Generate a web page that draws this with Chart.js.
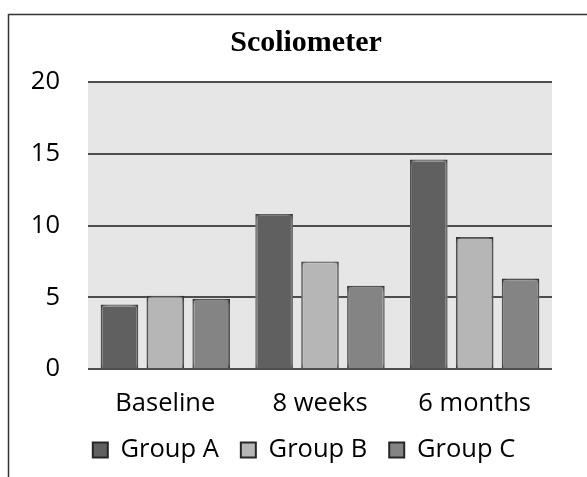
<!DOCTYPE html>
<html>
<head>
<meta charset="utf-8">
<script src="https://cdn.jsdelivr.net/npm/chart.js@4.4.1/dist/chart.umd.min.js"></script>
<style>
  html, body { margin: 0; padding: 0; background: #fff; }
  #wrap { width: 587px; height: 477px; position: relative; }
</style>
</head>
<body>
<div id="wrap"><canvas id="scolioChart" width="587" height="477"></canvas></div>
<script>
const categories = ["Baseline", "8 weeks", "6 months"];
const groupA = [4.5, 10.8, 14.6];
const groupB = [5.1, 7.5, 9.2];
const groupC = [4.9, 5.8, 6.3];
const yTicks = [0, 5, 10, 15, 20];

// frame lines (top + left) and grey plot background
const framePlugin = {
  id: "frame",
  afterLayout(chart) {
    // original chart was wider than the crop, so title/legend sit right of centre
    if (chart.titleBlock) chart.titleBlock.left = 60;
    if (chart.legend) chart.legend.left = 56;
  },
  beforeDraw(chart) {
    const ctx = chart.ctx;
    const a = chart.chartArea;
    ctx.save();
    ctx.fillStyle = "#e6e6e6";
    ctx.fillRect(a.left, a.top, a.right - a.left, a.bottom - a.top);
    ctx.strokeStyle = "#333";
    ctx.lineWidth = 1.5;
    ctx.beginPath();
    ctx.moveTo(8.5, chart.height);
    ctx.lineTo(8.5, 14.5);
    ctx.lineTo(chart.width, 14.5);
    ctx.stroke();
    ctx.restore();
  },
  beforeDatasetDraw(chart) {
    chart.ctx.save();
    chart.ctx.shadowColor = "rgba(255,255,255,0.95)";
    chart.ctx.shadowBlur = 5;
  },
  afterDatasetDraw(chart) {
    chart.ctx.restore();
  }
};

const ctx = document.getElementById("scolioChart").getContext("2d");
new Chart(ctx, {
  type: "bar",
  data: {
    labels: categories,
    datasets: [
      { label: "Group A", data: groupA, backgroundColor: "#606060", borderColor: "#262626", borderWidth: 2 },
      { label: "Group B", data: groupB, backgroundColor: "#b6b6b6", borderColor: "#262626", borderWidth: 2 },
      { label: "Group C", data: groupC, backgroundColor: "#848484", borderColor: "#262626", borderWidth: 2 },
    ],
  },
  options: {
    responsive: false,
    animation: false,
    layout: { padding: { left: 20, right: 35, top: 14, bottom: 4.25 } },
    datasets: { bar: { categoryPercentage: 0.89, barPercentage: 0.82 } },
    plugins: {
      title: {
        display: true,
        text: "Scoliometer",
        color: "#000",
        font: { family: "'Liberation Serif', serif", size: 30, weight: "bold" },
        padding: { top: 11, bottom: 21 },
      },
      legend: {
        position: "bottom",
        labels: {
          boxWidth: 15,
          boxHeight: 15,
          padding: 22,
          color: "#000",
          font: { family: "'Open Sans', sans-serif", size: 25.5 },
        },
      },
      tooltip: { enabled: false },
    },
    scales: {
      x: {
        grid: { display: false, drawTicks: false },
        border: { display: false },
        afterFit(scale) {
          scale.height = 46.25;
        },
        ticks: { color: "#000", padding: 19, font: { family: "'Open Sans', sans-serif", size: 25.5 } },
      },
      y: {
        min: 0,
        max: 20,
        afterBuildTicks(scale) {
          scale.ticks = yTicks.map((v) => ({ value: v }));
        },
        afterFit(scale) {
          scale.width = 68;
        },
        grid: { color: "#4d4d4d", lineWidth: 2, drawTicks: false },
        border: { display: false },
        ticks: { color: "#000", padding: 28, font: { family: "'Open Sans', sans-serif", size: 25.5 } },
      },
    },
  },
  plugins: [framePlugin],
});
</script>
</body>
</html>
